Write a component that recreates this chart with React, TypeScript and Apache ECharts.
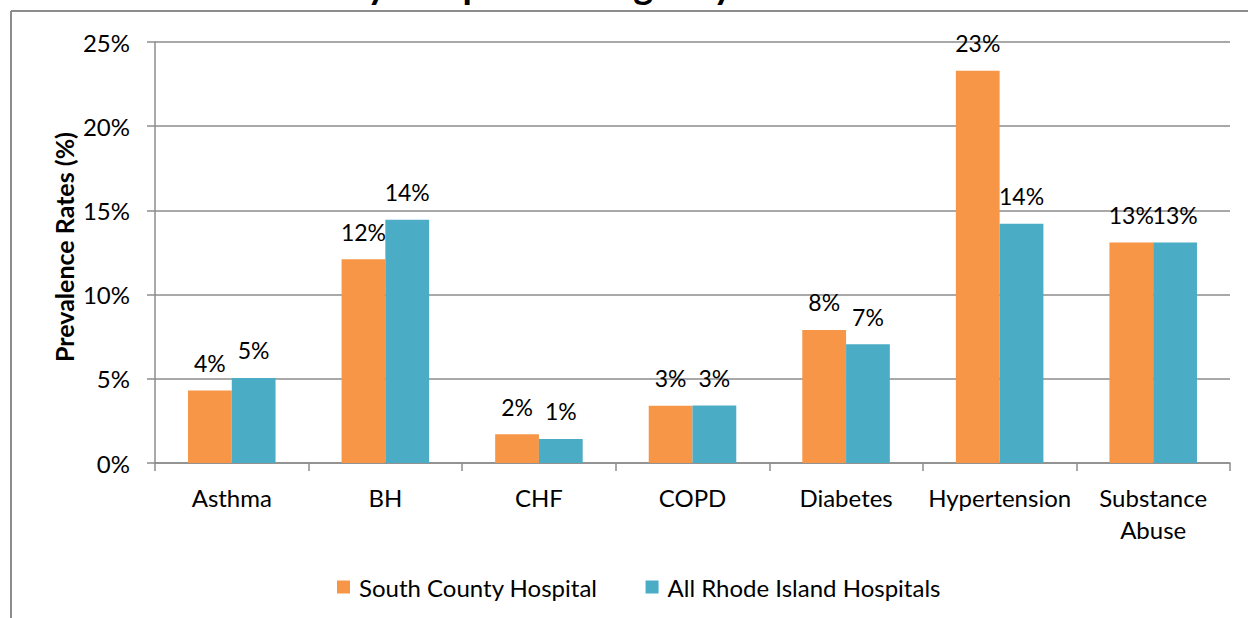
import React, { useEffect, useRef } from "react";
import * as echarts from "echarts";

const categories = ["Asthma", "BH", "CHF", "COPD", "Diabetes", "Hypertension", "Substance\nAbuse"];
const southCounty = [4.3, 12.1, 1.7, 3.4, 7.9, 23.3, 13.1];
const allRhodeIsland = [5.05, 14.45, 1.43, 3.42, 7.05, 14.2, 13.1];
const seriesNames = ["South County Hospital", "All Rhode Island Hospitals"];
const yTicks = { min: 0, max: 25, interval: 5 };
const titleText = "Conditions by Hospital Emergency Visits";
const yAxisTitle = "Prevalence Rates (%)";

const FONT = "Lato";
const GRAY = "#8c8c8c";

export default function App() {
  const ref = useRef<HTMLDivElement>(null);
  useEffect(() => {
    if (!ref.current) return;
    const chart = echarts.init(ref.current, null, { renderer: "svg" });
    const labelCfg = {
      show: true,
      position: "top",
      distance: 16,
      fontSize: 23,
      fontFamily: FONT,
      color: "#000",
      formatter: (p: any) => Math.round(p.value) + "%",
    };
    chart.setOption({
      animation: false,
      textStyle: { fontFamily: FONT },
      grid: { left: 155, right: 18, top: 42, bottom: 155, containLabel: false },
      graphic: [
        {
          type: "line",
          shape: { x1: 11, y1: 11, x2: 1248, y2: 11 },
          style: { stroke: GRAY, lineWidth: 2 },
          silent: true,
        },
        {
          type: "line",
          shape: { x1: 11, y1: 11, x2: 11, y2: 618 },
          style: { stroke: GRAY, lineWidth: 2 },
          silent: true,
        },
        {
          type: "text",
          x: 153,
          y: 3,
          style: {
            text: titleText,
            fontSize: 38,
            fontWeight: "bold",
            fontFamily: FONT,
            fill: "#000",
            verticalAlign: "bottom",
          },
          silent: true,
        },
        {
          type: "text",
          x: 64,
          y: 247,
          rotation: Math.PI / 2,
          style: {
            text: yAxisTitle,
            fontSize: 25,
            fontWeight: "bold",
            fontFamily: FONT,
            fill: "#000",
            align: "center",
            verticalAlign: "middle",
          },
          silent: true,
        },
      ],
      legend: {
        left: 332,
        top: 570,
        itemWidth: 13,
        itemHeight: 13,
        itemGap: 48,
        icon: "rect",
        textStyle: { fontSize: 24, fontFamily: FONT, color: "#000", padding: [0, 0, 0, 4] },
        data: seriesNames,
      },
      xAxis: {
        type: "category",
        data: categories,
        axisLine: { show: true, lineStyle: { color: GRAY, width: 1.5 } },
        axisTick: { show: true, length: 8, lineStyle: { color: GRAY, width: 1.5 } },
        axisLabel: { fontSize: 24, fontFamily: FONT, color: "#000", margin: 18, lineHeight: 32, interval: 0 },
      },
      yAxis: {
        type: "value",
        min: yTicks.min,
        max: yTicks.max,
        interval: yTicks.interval,
        axisLine: { show: true, lineStyle: { color: GRAY, width: 1.5 } },
        axisTick: { show: true, length: 8, lineStyle: { color: GRAY, width: 1.5 } },
        splitLine: { show: true, lineStyle: { color: GRAY, width: 1.5 } },
        axisLabel: { fontSize: 24, fontFamily: FONT, color: "#000", margin: 25, formatter: "{value}%" },
      },
      series: [
        {
          name: seriesNames[0],
          type: "bar",
          data: southCounty,
          itemStyle: { color: "#F79646" },
          barGap: "0%",
          barCategoryGap: "43%",
          label: labelCfg,
        },
        {
          name: seriesNames[1],
          type: "bar",
          data: allRhodeIsland,
          itemStyle: { color: "#4BACC6" },
          barGap: "0%",
          barCategoryGap: "43%",
          label: labelCfg,
        },
      ],
    });
    return () => chart.dispose();
  }, []);
  return (
    <div
      ref={ref}
      style={{ position: "fixed", left: 0, top: 0, width: 1248, height: 618, background: "#fff" }}
    />
  );
}
